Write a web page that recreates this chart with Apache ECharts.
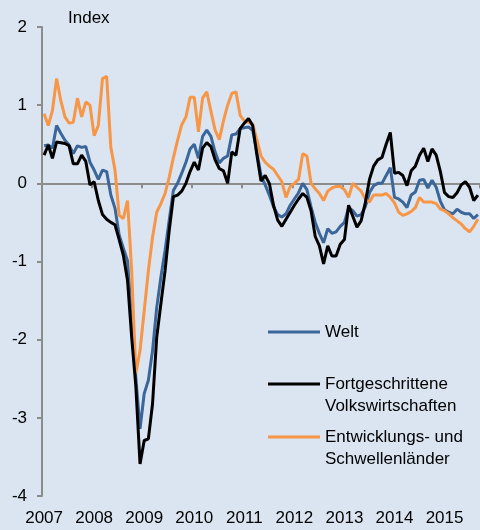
<!DOCTYPE html>
<html>
<head>
<meta charset="utf-8">
<title>Index</title>
<script src="https://cdn.jsdelivr.net/npm/echarts@6/dist/echarts.min.js"></script>
<style>
  html, body { margin: 0; padding: 0; background: #dbe5f1; }
  #chart { width: 480px; height: 530px; }
</style>
</head>
<body>
<div id="chart"></div>
<script>
  // monatliche Werte, Jan 2007 bis Sep 2015
  const years = ['2007', '2008', '2009', '2010', '2011', '2012', '2013', '2014', '2015'];
  const monthNames = ['01', '02', '03', '04', '05', '06', '07', '08', '09', '10', '11', '12'];
  const lastMonth = '2015-09';

  const welt = [
    0.48, 0.49, 0.45, 0.74, 0.64, 0.55, 0.49, 0.38, 0.48, 0.46, 0.47, 0.27,
    0.17, 0.05, 0.17, 0.15, -0.15, -0.32, -0.66, -0.83, -0.99, -1.75, -2.49, -3.14,
    -2.69, -2.52, -2.14, -1.59, -1.2, -0.86, -0.47, -0.09, 0.0, 0.13, 0.27, 0.44,
    0.5, 0.32, 0.6, 0.68, 0.6, 0.4, 0.26, 0.32, 0.35, 0.62, 0.63, 0.7,
    0.71, 0.72, 0.68, 0.4, 0.1, -0.02, -0.15, -0.3, -0.4, -0.43, -0.39, -0.28,
    -0.2, -0.12, 0.0, -0.08, -0.3, -0.5, -0.64, -0.76, -0.58, -0.64, -0.62, -0.55,
    -0.5, -0.31, -0.35, -0.42, -0.4, -0.3, -0.12, -0.03, 0.0, 0.0, 0.1, 0.2,
    -0.18, -0.2, -0.24, -0.31, -0.15, -0.11, 0.04, 0.05, -0.06, 0.04, -0.05, -0.23,
    -0.34, -0.37, -0.39, -0.33, -0.37, -0.39, -0.39, -0.45, -0.4
  ];
  const fortgeschrittene = [
    0.36, 0.49, 0.32, 0.53, 0.52, 0.51, 0.48, 0.25, 0.25, 0.36, 0.28, -0.02,
    0.02, -0.22, -0.4, -0.46, -0.5, -0.53, -0.72, -0.92, -1.24, -1.97, -2.6, -3.59,
    -3.29, -3.27, -2.82, -1.97, -1.54, -1.12, -0.6, -0.17, -0.15, -0.1, 0.0, 0.15,
    0.27, 0.17, 0.45, 0.52, 0.47, 0.3, 0.19, 0.16, 0.0, 0.4, 0.36, 0.7,
    0.77, 0.83, 0.74, 0.37, 0.03, 0.1, 0.0, -0.28, -0.47, -0.55, -0.46, -0.37,
    -0.28, -0.2, -0.13, -0.18, -0.35, -0.68, -0.8, -1.03, -0.8, -0.93, -0.93, -0.78,
    -0.72, -0.28, -0.42, -0.56, -0.48, -0.25, 0.05, 0.22, 0.3, 0.33, 0.5, 0.65,
    0.13, 0.14, 0.1, -0.03, 0.16, 0.22, 0.36, 0.45, 0.28, 0.44, 0.36, 0.15,
    -0.12, -0.17, -0.18, -0.12, -0.02, 0.02, -0.05, -0.22, -0.15
  ];
  const entwicklung = [
    0.89, 0.74, 0.93, 1.34, 1.06, 0.85, 0.77, 0.78, 1.09, 0.85, 1.04, 1.0,
    0.61, 0.74, 1.34, 1.37, 0.46, 0.17, -0.41, -0.45, -0.22, -1.12, -2.43, -2.14,
    -1.63, -1.12, -0.69, -0.37, -0.26, -0.13, 0.08, 0.33, 0.55, 0.75, 0.85, 1.1,
    1.1, 0.66, 1.09, 1.17, 0.92, 0.68, 0.56, 0.8, 1.0, 1.15, 1.17, 0.87,
    0.8, 0.78, 0.76, 0.56, 0.35, 0.27, 0.22, 0.18, 0.1, 0.02, -0.18, -0.04,
    0.0, 0.05, 0.38, 0.35, 0.0, -0.07, -0.13, -0.22, -0.1, -0.06, -0.04, -0.04,
    -0.08, -0.18, 0.0, -0.05, -0.1, -0.2, -0.24, -0.15, -0.15, -0.15, -0.13, -0.18,
    -0.25, -0.37, -0.41, -0.39, -0.36, -0.31, -0.18, -0.24, -0.24, -0.24, -0.26, -0.33,
    -0.35, -0.39, -0.44, -0.48, -0.52, -0.58, -0.62, -0.55, -0.46
  ];

  const months = [];
  years.forEach(function (y) {
    monthNames.forEach(function (m) {
      if (y + '-' + m <= lastMonth) months.push(y + '-' + m);
    });
  });

  const font = 'Liberation Sans, Arial, sans-serif';
  const axisGrey = '#8c8c8c';
  const isJanuary = function (index, value) { return value.slice(5) === '01'; };
  const legendText = { fontFamily: font, fontSize: 17, color: '#000', lineHeight: 22 };

  let myChart = echarts.init(document.getElementById('chart'));
  let option = {
    backgroundColor: '#dbe5f1',
    animation: false,
    textStyle: { fontFamily: font, color: '#000' },
    title: {
      text: 'Index',
      left: 63,
      top: 5,
      textStyle: { fontFamily: font, fontSize: 17, fontWeight: 'normal', color: '#000' }
    },
    legend: [
      {
        data: ['Welt'],
        left: 268, top: 321, padding: 0,
        icon: 'rect', itemWidth: 52, itemHeight: 3,
        textStyle: legendText
      },
      {
        // leere erste Zeile, damit die Linie auf Höhe der ersten Textzeile steht
        data: ['Fortgeschrittene Volkswirtschaften'],
        left: 268, top: 351, padding: 0,
        icon: 'rect', itemWidth: 52, itemHeight: 3,
        formatter: function () { return '\nFortgeschrittene\nVolkswirtschaften'; },
        textStyle: legendText
      },
      {
        data: ['Entwicklungs- und Schwellenländer'],
        left: 268, top: 404, padding: 0,
        icon: 'rect', itemWidth: 52, itemHeight: 3,
        formatter: function () { return '\nEntwicklungs- und\nSchwellenländer'; },
        textStyle: legendText
      }
    ],
    grid: { left: 42, top: 27, width: 438, height: 469, containLabel: false },
    xAxis: [
      {
        type: 'category',
        data: months,
        boundaryGap: true,
        position: 'bottom',
        axisLine: { show: false, onZero: false },
        axisTick: { show: false },
        splitLine: { show: false },
        axisLabel: {
          interval: isJanuary,
          formatter: function (v) { return v.slice(0, 4); },
          fontFamily: font, fontSize: 17, color: '#000', margin: 14
        }
      },
      {
        // Nulllinie mit Jahresstrichen
        type: 'category',
        data: months,
        boundaryGap: true,
        position: 'bottom',
        axisLine: { show: true, onZero: true, lineStyle: { color: axisGrey, width: 2 } },
        axisTick: { show: true, interval: isJanuary, length: 5, lineStyle: { color: axisGrey, width: 2 } },
        axisLabel: { show: false },
        splitLine: { show: false }
      }
    ],
    yAxis: {
      type: 'value',
      min: -4,
      max: 2,
      interval: 1,
      axisLine: { show: true, onZero: false, lineStyle: { color: axisGrey, width: 2 } },
      axisTick: { show: true, length: 5, lineStyle: { color: axisGrey, width: 2 } },
      splitLine: { show: false },
      axisLabel: { fontFamily: font, fontSize: 17, color: '#000', margin: 15 }
    },
    series: [
      {
        name: 'Welt',
        type: 'line',
        data: welt,
        symbol: 'none',
        color: '#3a6699',
        lineStyle: { width: 3, color: '#3a6699' }
      },
      {
        name: 'Entwicklungs- und Schwellenländer',
        type: 'line',
        data: entwicklung,
        symbol: 'none',
        color: '#f79646',
        lineStyle: { width: 3, color: '#f79646' }
      },
      {
        name: 'Fortgeschrittene Volkswirtschaften',
        type: 'line',
        data: fortgeschrittene,
        symbol: 'none',
        color: '#000000',
        lineStyle: { width: 3, color: '#000000' }
      }
    ]
  };
  myChart.setOption(option);
</script>
</body>
</html>
